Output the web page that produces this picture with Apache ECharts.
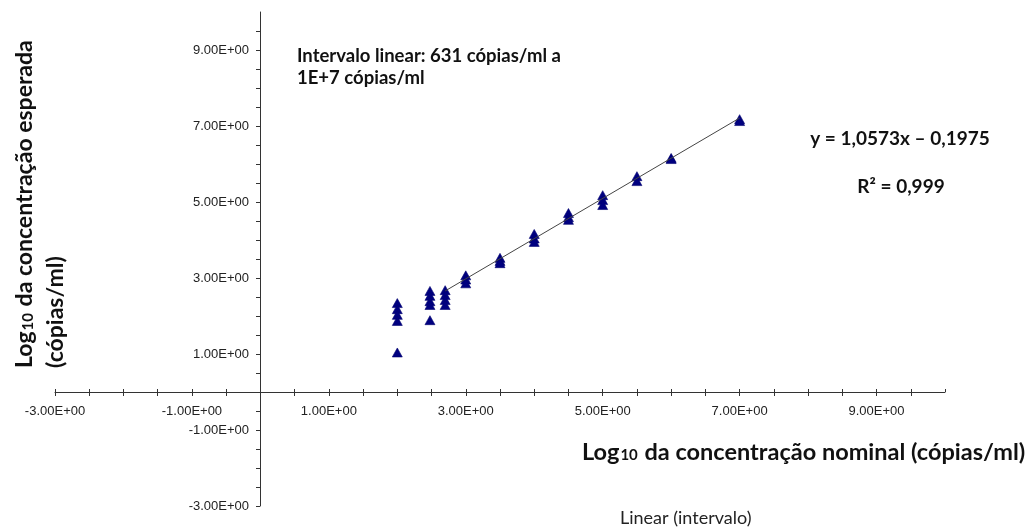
<!DOCTYPE html>
<html>
<head>
<meta charset="utf-8">
<script src="https://cdn.jsdelivr.net/npm/echarts@6/dist/echarts.min.js"></script>
<style>
  html, body { margin: 0; padding: 0; background: #fff; }
  #chart { width: 1029px; height: 528px; }
</style>
</head>
<body>
<div id="chart"></div>
<script>
// log10 nominal concentration of each dilution level
const xLevels = [2.0, 2.477, 2.699, 3.0, 3.5, 4.0, 4.5, 5.0, 5.5, 6.0, 7.0]
// log10 measured concentration, one list per level (replicates)
const yValues = [
  [2.34, 2.18, 2.03, 1.87, 1.04],
  [2.66, 2.53, 2.39, 2.29, 1.89],
  [2.68, 2.55, 2.42, 2.29],
  [3.07, 2.96, 2.86],
  [3.53, 3.45, 3.39],
  [4.16, 4.04, 3.95],
  [4.71, 4.60, 4.53],
  [5.18, 5.05, 4.92],
  [5.68, 5.55],
  [6.16, 6.13],
  [7.18, 7.13]
]
// regression line over the linear range
const trendX = [2.7, 7.0]
const trendY = [2.66, 7.21]
// axis labels that are shown (every other unit)
const xLabelTicks = [-3, -1, 1, 3, 5, 7, 9]
const yLabelTicks = [-3, -1, 1, 3, 5, 7, 9]

const boldFont = 'Lato, "Open Sans", sans-serif'

// grid box, the axes cross at 0 so they are shifted in by offset
const grid = { left: 55, right: 84, top: 12, bottom: 22 }
const xMin = -3, xMax = 10, yMin = -3, yMax = 10
const plotW = 1029 - grid.left - grid.right
const plotH = 528 - grid.top - grid.bottom
const yAxisShift = -Math.round((0 - xMin) / (xMax - xMin) * plotW)
const xAxisShift = -Math.round((0 - yMin) / (yMax - yMin) * plotH)

function sci(v) {
  const parts = v.toExponential(2).split('e')
  const e = Math.abs(+parts[1])
  return parts[0] + 'E' + (+parts[1] < 0 ? '-' : '+') + (e < 10 ? '0' + e : e)
}

const points = []
xLevels.forEach((x, i) => {
  yValues[i].forEach(y => points.push([x, y]))
})

const axisStyle = { color: '#333', width: 1 }
const labelStyle = { color: '#222', fontSize: 13, fontFamily: '"Liberation Sans", Arial, sans-serif' }

const chart = echarts.init(document.getElementById('chart'))
chart.setOption({
  animation: false,
  grid: { ...grid, outerBoundsMode: 'none' },
  xAxis: [
    {
      type: 'value', min: xMin, max: xMax, interval: 0.5, offset: xAxisShift,
      splitLine: { show: false },
      axisLine: { onZero: false, lineStyle: axisStyle },
      axisTick: { length: 4, lineStyle: axisStyle },
      axisLabel: {
        ...labelStyle, margin: 13, showMinLabel: true, showMaxLabel: false,
        formatter: v => (xLabelTicks.includes(v) ? sci(v) : '')
      }
    },
    {
      // second copy only to draw the upper half of the crossing ticks
      type: 'value', min: xMin, max: xMax, interval: 0.5, position: 'bottom', offset: xAxisShift,
      splitLine: { show: false },
      axisLine: { onZero: false, show: false },
      axisTick: { inside: true, length: 3, lineStyle: axisStyle },
      axisLabel: { show: false }
    }
  ],
  yAxis: {
    type: 'value', min: yMin, max: yMax, interval: 0.5, offset: yAxisShift,
    splitLine: { show: false },
    axisLine: { onZero: false, lineStyle: axisStyle },
    axisTick: { length: 4, lineStyle: axisStyle },
    axisLabel: {
      ...labelStyle, margin: 11, showMaxLabel: false,
      formatter: v => (yLabelTicks.includes(v) ? sci(v) : '')
    }
  },
  series: [
    {
      type: 'line',
      data: trendX.map((x, i) => [x, trendY[i]]),
      symbol: 'none',
      lineStyle: { color: '#444', width: 1 },
      z: 3
    },
    {
      type: 'scatter',
      data: points,
      symbol: 'triangle',
      symbolSize: [10, 9],
      itemStyle: { color: '#000080', borderColor: '#00006e', borderWidth: 0.6, opacity: 1 },
      z: 2
    }
  ],
  graphic: [
    {
      type: 'text', x: 9, y: 368, rotation: Math.PI / 2,
      style: {
        text: '{a|Log}{s|10}{a| da concentração esperada}\n{a|(cópias/ml)}',
        textAlign: 'left', textVerticalAlign: 'top',
        rich: {
          a: { fontFamily: boldFont, fontWeight: 'bold', fontSize: 23, lineHeight: 31, fill: '#111' },
          s: { fontFamily: boldFont, fontWeight: 'bold', fontSize: 15, lineHeight: 15, verticalAlign: 'bottom', padding: [0, 1, 4, 1], fill: '#111' }
        }
      }
    },
    {
      type: 'text', x: 582, y: 452,
      style: {
        text: '{a|Log}{s|10}{a| da concentração nominal (cópias/ml)}',
        textAlign: 'left', textVerticalAlign: 'middle',
        rich: {
          a: { fontFamily: boldFont, fontWeight: 'bold', fontSize: 23.5, lineHeight: 30, fill: '#111' },
          s: { fontFamily: boldFont, fontWeight: 'bold', fontSize: 15, lineHeight: 15, verticalAlign: 'bottom', padding: [0, 1, 4, 1], fill: '#111' }
        }
      }
    },
    {
      type: 'text', x: 297, y: 45,
      style: {
        text: 'Intervalo linear: 631 cópias/ml a\n1E+7 cópias/ml',
        textAlign: 'left', textVerticalAlign: 'top',
        font: 'bold 18.5px ' + boldFont, lineHeight: 22, fill: '#111'
      }
    },
    {
      type: 'text', x: 900, y: 139,
      style: {
        text: 'y = 1,0573x – 0,1975', textAlign: 'center', textVerticalAlign: 'middle',
        font: 'bold 19px ' + boldFont, fill: '#111'
      }
    },
    {
      type: 'text', x: 901, y: 187,
      style: {
        text: 'R² = 0,999', textAlign: 'center', textVerticalAlign: 'middle',
        font: 'bold 19px ' + boldFont, fill: '#111'
      }
    },
    {
      type: 'text', x: 620, y: 518,
      style: {
        text: 'Linear (intervalo)', textAlign: 'left', textVerticalAlign: 'middle',
        font: '18px ' + boldFont, fill: '#222'
      }
    }
  ]
})
</script>
</body>
</html>
